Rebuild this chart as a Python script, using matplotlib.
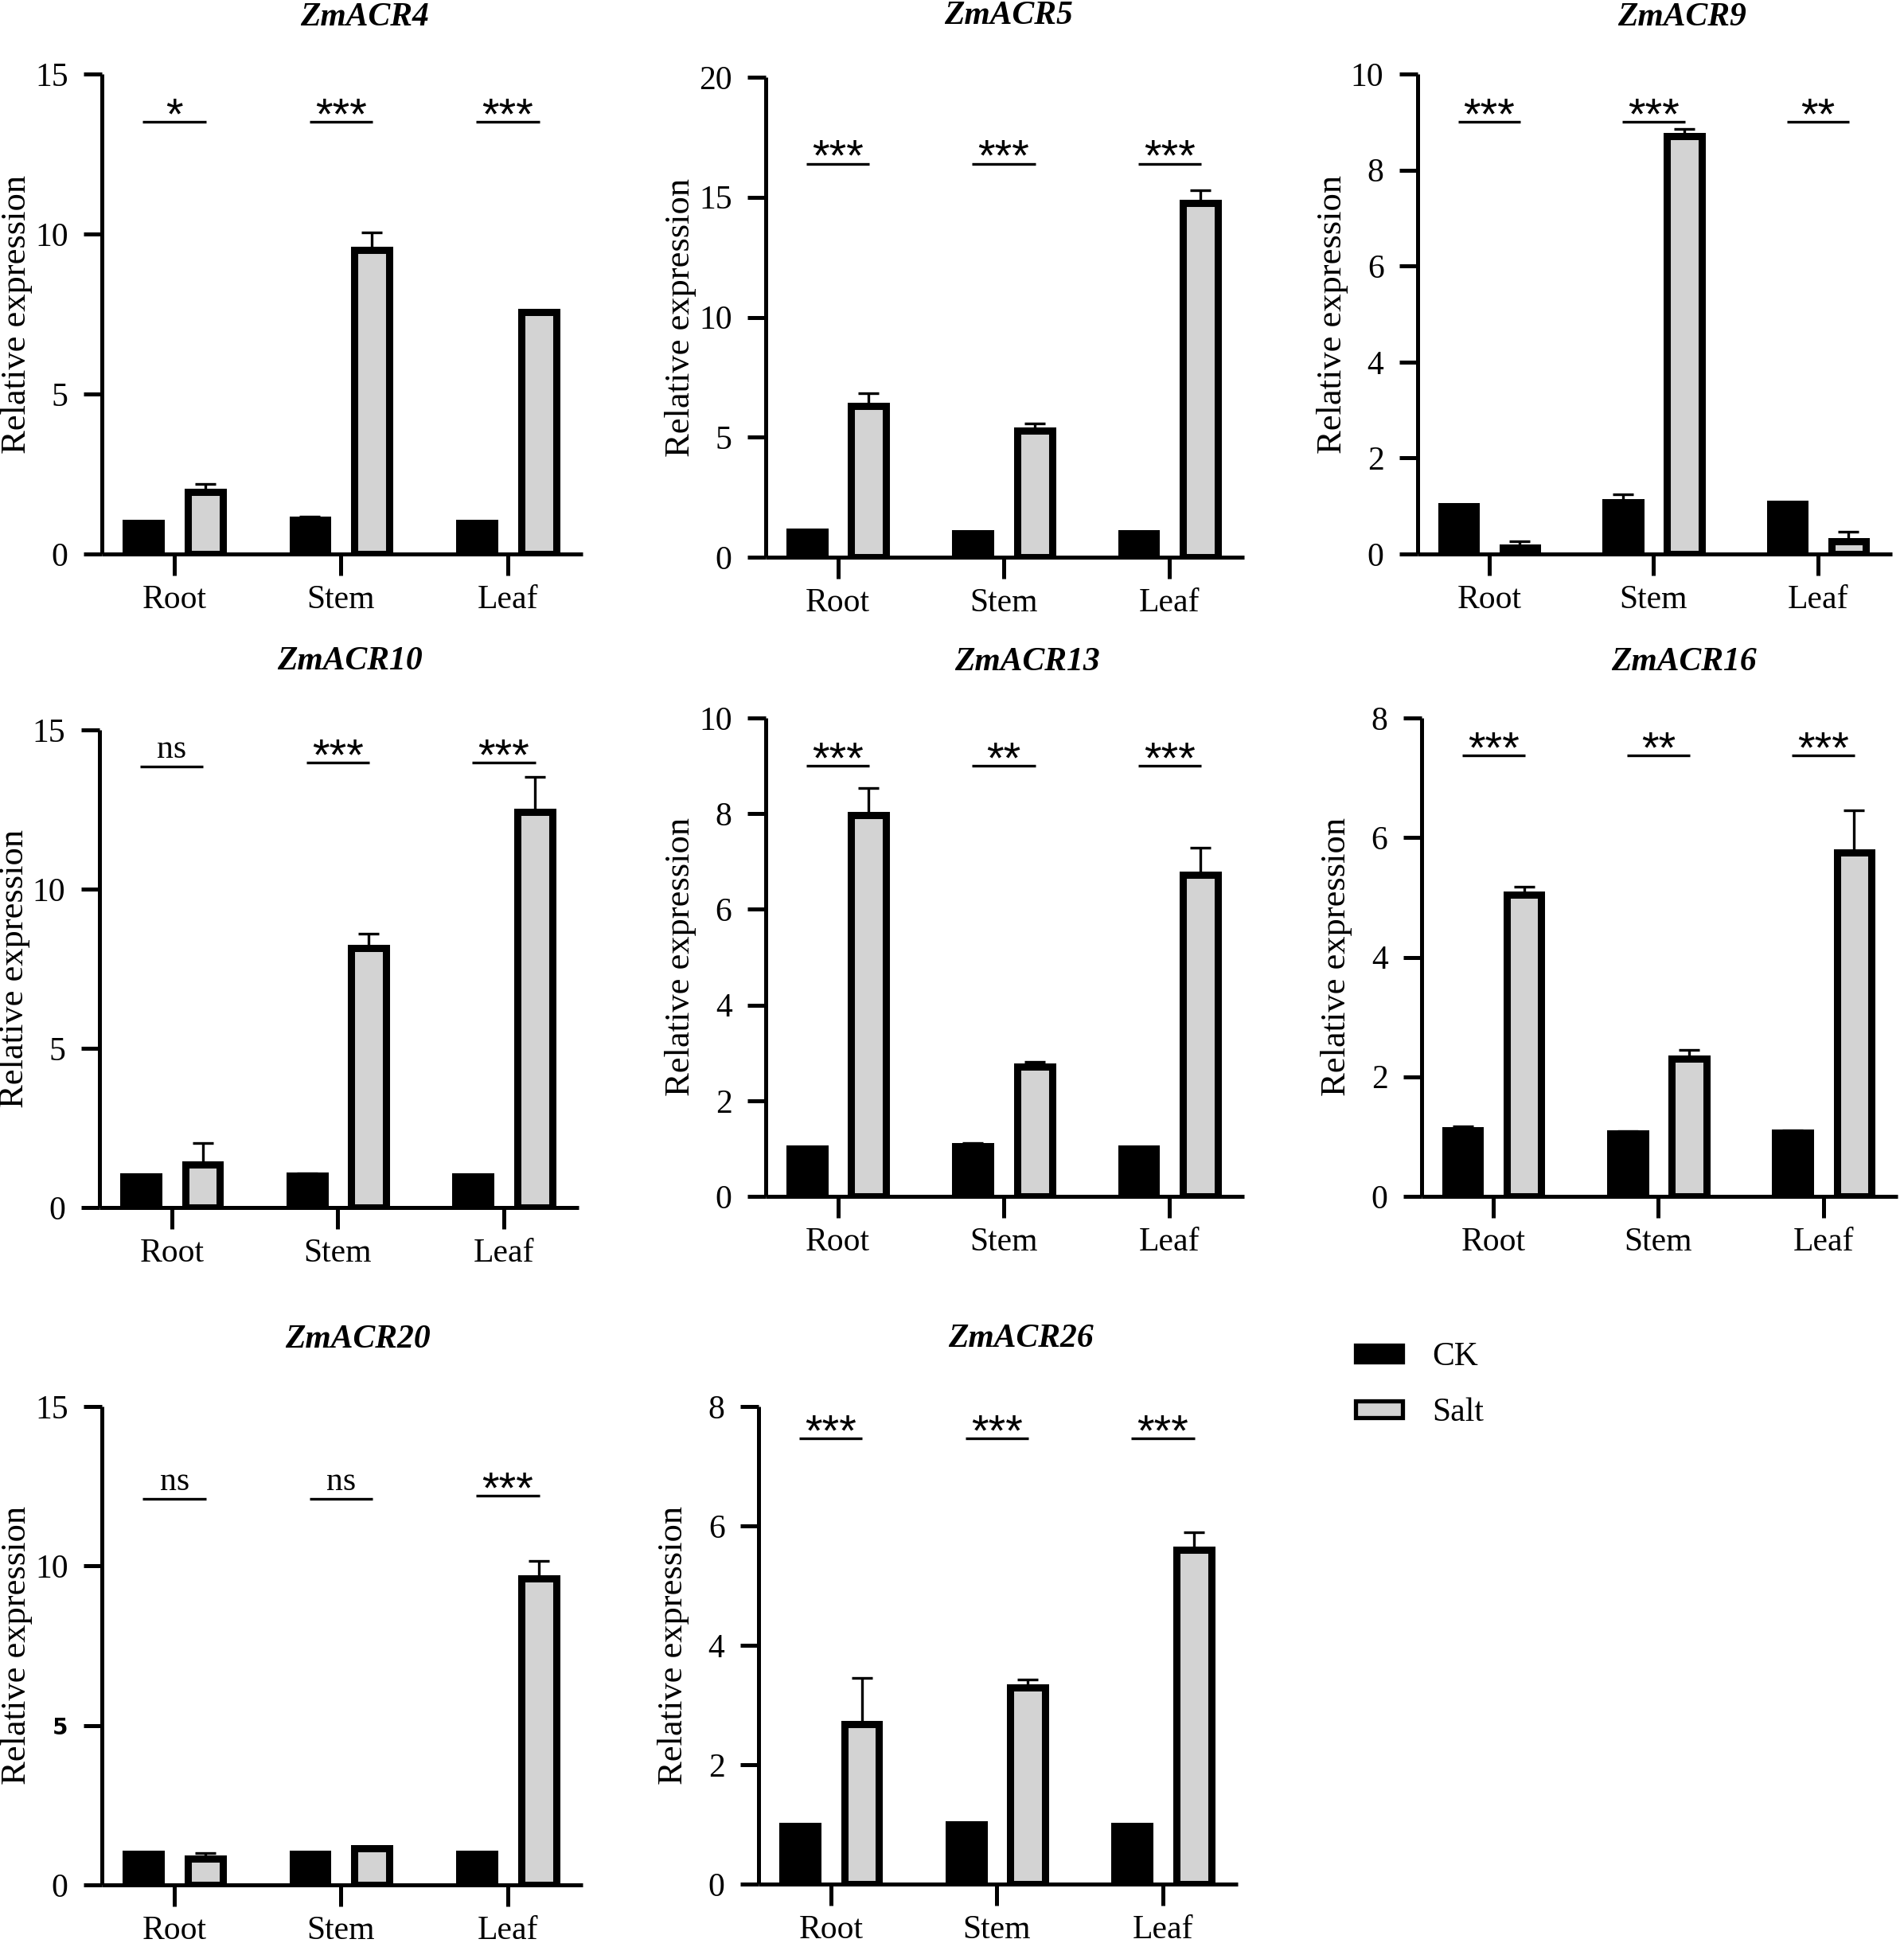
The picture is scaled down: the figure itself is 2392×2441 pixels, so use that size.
import matplotlib
matplotlib.use('Agg')
import matplotlib.pyplot as plt
import numpy as np
from matplotlib.patches import Patch

plt.rcParams['font.family'] = ['Liberation Serif', 'DejaVu Serif']

W, H, DPI = 2392, 2441, 100

# ---------------- data ----------------
tissues = ['Root', 'Stem', 'Leaf']
genes = ['ZmACR4', 'ZmACR5', 'ZmACR9', 'ZmACR10',
         'ZmACR13', 'ZmACR16', 'ZmACR20', 'ZmACR26']

ck_means = [[0.98, 1.08, 0.98],
            [1.05, 1.00, 1.00],
            [1.00, 1.08, 1.04],
            [0.97, 1.00, 0.98],
            [1.00, 1.04, 1.00],
            [1.10, 1.05, 1.06],
            [0.97, 0.97, 0.97],
            [0.97, 1.00, 0.98]]
ck_errs = [[0.03, 0.08, 0.03],
           [0.05, 0.05, 0.04],
           [0.02, 0.16, 0.04],
           [0.03, 0.08, 0.03],
           [0.02, 0.07, 0.03],
           [0.07, 0.04, 0.04],
           [0.02, 0.02, 0.02],
           [0.02, 0.03, 0.02]]
salt_means = [[1.95, 9.50, 7.55],
              [6.30, 5.28, 14.75],
              [0.13, 8.71, 0.27],
              [1.35, 8.15, 12.42],
              [7.97, 2.72, 6.73],
              [5.05, 2.30, 5.75],
              [0.82, 1.16, 9.62],
              [2.68, 3.30, 5.60]]
salt_errs = [[0.25, 0.55, 0.05],
             [0.52, 0.30, 0.55],
             [0.13, 0.15, 0.20],
             [0.68, 0.45, 1.10],
             [0.57, 0.10, 0.55],
             [0.13, 0.15, 0.70],
             [0.18, 0.05, 0.55],
             [0.78, 0.13, 0.30]]
sig_labels = [['*', '***', '***'],
              ['***', '***', '***'],
              ['***', '***', '**'],
              ['ns', '***', '***'],
              ['***', '**', '***'],
              ['***', '**', '***'],
              ['ns', 'ns', '***'],
              ['***', '***', '***']]
sig_heights = [[13.5, 13.5, 13.5],
               [16.4, 16.4, 16.4],
               [9.0, 9.0, 9.0],
               [13.85, 13.98, 13.98],
               [9.0, 9.0, 9.0],
               [7.37, 7.37, 7.37],
               [12.1, 12.1, 12.2],
               [7.47, 7.47, 7.47]]
y_max = [15, 20, 10, 15, 10, 8, 15, 8]
y_step = [5, 5, 2, 5, 2, 2, 5, 2]
legend_labels = ['CK', 'Salt']

# ---------------- layout (pixels: left, right, top, bottom) ----------------
panel_px = [(128, 732, 93, 696),
            (962, 1563, 97, 700),
            (1781, 2377, 93, 696),
            (125, 727, 917, 1517),
            (962, 1563, 902, 1503),
            (1786, 2384, 902, 1503),
            (128, 732, 1767, 2368),
            (953, 1555, 1767, 2367)]
title_px = [(458, 22), (1267, 20), (2113, 22),
            (439, 831), (1290, 832), (2115, 832),
            (449, 1683), (1282, 1682)]

SALT_COLOR = '#d3d3d3'
FS = 30
LW_AX = 3.6
LW_BAR = 6.5

fig = plt.figure(figsize=(W / DPI, H / DPI), dpi=DPI)

x = np.arange(len(tissues))
off = 0.186
bw = 0.21

for i, gene in enumerate(genes):
    l, r, t, b = panel_px[i]
    ax = fig.add_axes([l / W, 1 - b / H, (r - l) / W, (b - t) / H])
    ck = np.array(ck_means[i]); cke = np.array(ck_errs[i])
    sa = np.array(salt_means[i]); sae = np.array(salt_errs[i])

    ax.errorbar(x - off, ck, yerr=[np.zeros(3), cke], fmt='none', ecolor='black',
                elinewidth=2.4, capsize=9.7, capthick=2.4, zorder=1)
    ax.errorbar(x + off, sa, yerr=[np.zeros(3), sae], fmt='none', ecolor='black',
                elinewidth=2.4, capsize=9.7, capthick=2.4, zorder=1)
    ax.bar(x - off, ck, width=bw, color='black', edgecolor='black',
           linewidth=LW_BAR, zorder=2)
    ax.bar(x + off, sa, width=bw, color=SALT_COLOR, edgecolor='black',
           linewidth=LW_BAR, zorder=2)

    # significance annotations
    for j in range(3):
        h = sig_heights[i][j]
        ax.plot([x[j] - 0.19, x[j] + 0.19], [h, h], color='black',
                lw=2.4, solid_capstyle='butt', clip_on=False)
        lab = sig_labels[i][j]
        if lab == 'ns':
            ax.annotate(lab, xy=(x[j], h), xytext=(0, 8), textcoords='offset points',
                        ha='center', va='baseline', fontsize=FS, annotation_clip=False)
        else:
            ax.annotate(lab, xy=(x[j], h), xytext=(0, -6), textcoords='offset points',
                        ha='center', va='baseline', fontsize=40,
                        family=['Liberation Sans', 'DejaVu Sans'], annotation_clip=False)

    ax.set_xlim(-0.435, 2.45)
    ax.set_ylim(0, y_max[i])
    ticks = np.arange(0, y_max[i] + 0.001, y_step[i])
    ax.set_yticks(ticks, labels=[f'{int(v)}' for v in ticks])
    ax.set_xticks(x, labels=tissues)

    for s in ['top', 'right']:
        ax.spines[s].set_visible(False)
    for s in ['left', 'bottom']:
        ax.spines[s].set_linewidth(LW_AX)
        ax.spines[s].set_capstyle('butt')
    ax.tick_params(axis='y', length=16.6, width=LW_AX, labelsize=FS, pad=14)
    ax.tick_params(axis='x', length=19.4, width=LW_AX, labelsize=FS, pad=8)

    ax.set_ylabel('Relative expression', fontsize=FS + 2, va='center')
    ax.yaxis.set_label_coords(-107 / (r - l), 0.5)

    if gene == 'ZmACR20':
        for tl in ax.get_yticklabels():
            if tl.get_text() == '5':
                tl.set_fontfamily(['DejaVu Sans'])
                tl.set_fontweight('bold')
                tl.set_fontsize(20)

    tx, ty = title_px[i]
    fig.text(tx / W, 1 - ty / H, gene, ha='center', va='center', fontsize=FS,
             fontweight='bold', fontstyle='italic')

handles = [Patch(facecolor='black', edgecolor='black', linewidth=3.8),
           Patch(facecolor=SALT_COLOR, edgecolor='black', linewidth=3.8)]
fig.legend(handles=handles, labels=legend_labels, loc='center left',
           bbox_to_anchor=(1703 / W, 1 - 1740 / H), frameon=False, fontsize=FS,
           handlelength=1.42, handleheight=0.41, handletextpad=0.9,
           labelspacing=0.75, borderpad=0, borderaxespad=0)

fig.savefig('out.png', dpi=DPI, facecolor='white')
